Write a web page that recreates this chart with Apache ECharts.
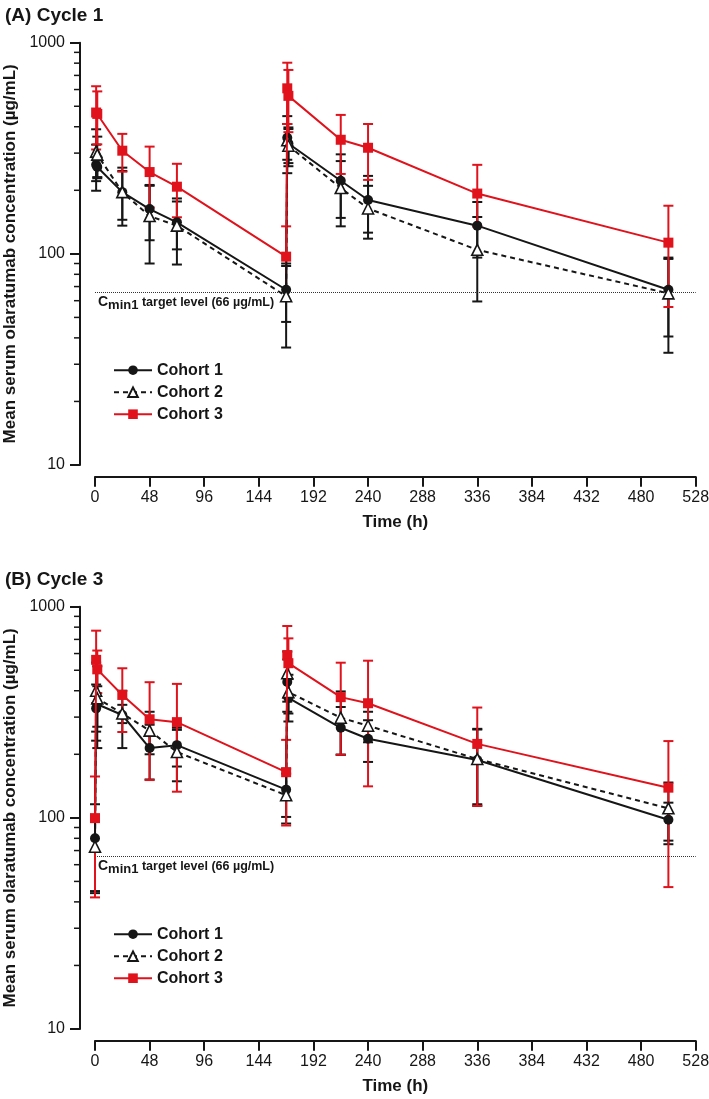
<!DOCTYPE html>
<html>
<head>
<meta charset="utf-8">
<script src="https://cdn.jsdelivr.net/npm/echarts@6/dist/echarts.min.js"></script>
<style>
  html, body { margin: 0; padding: 0; background: #fff; }
  #chart { width: 709px; height: 1099px; }
</style>
</head>
<body>
<div id="chart"></div>
<script>
// ---------------- DATA ----------------
const timesCycle1 = [1, 2, 24, 48, 72, 168, 169, 170, 216, 240, 336, 504];
const timesCycle3 = [0, 1, 2, 24, 48, 72, 168, 169, 170, 216, 240, 336, 504];

// Cycle 1 (panel A)
const c1Cohort1Mean = [264, 258, 196, 163, 141, 67.6, 355, 333, 222, 180, 136, 67.6];
const c1Cohort1Low  = [199, 228, 145, 116, 105, 47.6, 279, 269, 148, 126, 96, 40.6];
const c1Cohort1High = [329, 288, 247, 210, 177, 87.6, 412, 397, 296, 234, 176, 94.6];

const c1Cohort2Mean = [305, 295, 196, 151, 136, 63, 345, 325, 205, 164, 104.5, 65];
const c1Cohort2Low  = [221, 231, 136, 90, 89, 36, 241, 260, 135, 118, 59.5, 34];
const c1Cohort2High = [389, 359, 256, 212, 183, 90, 449, 390, 275, 210, 149.5, 96];

const c1Cohort3Mean = [467, 460, 308, 244, 208, 97, 608, 560, 347, 318, 193, 113];
const c1Cohort3Low  = [312, 330, 245, 166, 149, 60, 412, 377, 239, 224, 135, 56];
const c1Cohort3High = [622, 588, 370, 322, 267, 135, 804, 743, 455, 412, 264, 169];

// Cycle 3 (panel B)
const c3Cohort1Mean = [80, 330, 345, 307, 214, 221, 136, 440, 370, 267, 237, 188, 98];
const c3Cohort1Low  = [44, 232, 270, 214, 152, 175, 101, 318, 286, 199, 184, 114, 78];
const c3Cohort1High = [116, 428, 420, 400, 276, 267, 171, 562, 454, 335, 290, 262, 118];

const c3Cohort2Mean = [73, 400, 368, 312, 259, 205, 128, 484, 394, 298, 273, 190, 111];
const c3Cohort2Low  = [45, 256, 214, 281, 200, 149, 94, 355, 312, 199, 228, 116, 75];
const c3Cohort2High = [101, 544, 522, 343, 318, 261, 162, 613, 476, 397, 318, 264, 147];

const c3Cohort3Mean = [99.7, 560, 505, 382, 293, 284, 164.5, 590, 540, 373, 349, 224, 139];
const c3Cohort3Low  = [42, 350, 390, 255, 151, 133, 92, 370, 372, 199, 141, 114, 47];
const c3Cohort3High = [157, 770, 620, 511, 439, 431, 234, 810, 708, 543, 555, 333, 231];

const targetLevel = 66;
const cohortNames = ['Cohort 1', 'Cohort 2', 'Cohort 3'];
const panelTitles = ['(A) Cycle 1', '(B) Cycle 3'];
const xTicks = { min: 0, max: 528, interval: 48 };
const yRange = { min: 10, max: 1000 };
const minorTickValues = [20, 30, 40, 50, 60, 70, 80, 90, 200, 300, 400, 500, 600, 700, 800, 900];
const yAxisName = 'Mean serum olaratumab concentration (\u00b5g/mL)';
const xAxisName = 'Time (h)';

// ---------------- STYLE ----------------
const FONT = '"Liberation Sans", Arial, Helvetica, sans-serif';
const BLACK = '#161616';
const RED = '#e0121c';
const Y_OFFSET = 15;

const zip = (t, a) => t.map((x, i) => [x, a[i]]);
const zip3 = (t, lo, hi) => t.map((x, i) => [x, lo[i], hi[i]]);

const panels = [
  { times: timesCycle1, mean: [c1Cohort1Mean, c1Cohort2Mean, c1Cohort3Mean],
    low: [c1Cohort1Low, c1Cohort2Low, c1Cohort3Low], high: [c1Cohort1High, c1Cohort2High, c1Cohort3High], top: 42.7 },
  { times: timesCycle3, mean: [c3Cohort1Mean, c3Cohort2Mean, c3Cohort3Mean],
    low: [c3Cohort1Low, c3Cohort2Low, c3Cohort3Low], high: [c3Cohort1High, c3Cohort2High, c3Cohort3High], top: 606.7 }
];

const grids = [], xAxes = [], yAxes = [], series = [], titles = [], legends = [];

function errRender(color) {
  return function (params, api) {
    const x = api.value(0), lo = api.value(1), hi = api.value(2);
    const p1 = api.coord([x, lo]);
    const p2 = api.coord([x, hi]);
    const w = 5;
    const st = { stroke: color, lineWidth: 2 };
    return {
      type: 'group',
      children: [
        { type: 'line', shape: { x1: p1[0], y1: p1[1], x2: p2[0], y2: p2[1] }, style: st },
        { type: 'line', shape: { x1: p1[0] - w, y1: p1[1], x2: p1[0] + w, y2: p1[1] }, style: st },
        { type: 'line', shape: { x1: p2[0] - w, y1: p2[1], x2: p2[0] + w, y2: p2[1] }, style: st }
      ]
    };
  };
}

const seriesStyles = [
  { color: BLACK, symbol: 'circle', symbolSize: 10, lineType: 'solid',
    itemStyle: { color: BLACK, borderColor: BLACK, borderWidth: 0 } },
  { color: BLACK, symbol: 'triangle', symbolSize: 11, lineType: [5, 4],
    itemStyle: { color: '#ffffff', borderColor: BLACK, borderWidth: 1.6 } },
  { color: RED, symbol: 'rect', symbolSize: 10, lineType: 'solid',
    itemStyle: { color: RED, borderColor: RED, borderWidth: 0 } }
];

panels.forEach((p, gi) => {
  grids.push({ left: 95, top: p.top, width: 600.7, height: 422.3, containLabel: false, outerBoundsMode: 'none' });
  xAxes.push({
    gridIndex: gi, type: 'value', min: xTicks.min, max: xTicks.max, interval: xTicks.interval,
    offset: 11.7,
    axisLine: { show: true, onZero: false, lineStyle: { color: BLACK, width: 2 } },
    axisTick: { show: true, length: 10, lineStyle: { color: BLACK, width: 2 } },
    axisLabel: { fontFamily: FONT, fontSize: 16, color: BLACK, margin: 13 },
    splitLine: { show: false },
    name: xAxisName, nameLocation: 'middle', nameGap: 37,
    nameTextStyle: { fontFamily: FONT, fontSize: 17, fontWeight: 'bold', color: BLACK }
  });
  yAxes.push({
    gridIndex: gi, type: 'log', logBase: 10, min: yRange.min, max: yRange.max,
    offset: Y_OFFSET,
    axisLine: { show: true, onZero: false, lineStyle: { color: BLACK, width: 2 } },
    axisTick: { show: true, length: 10, lineStyle: { color: BLACK, width: 2 } },
    axisLabel: { fontFamily: FONT, fontSize: 16, color: BLACK, margin: 15,
      formatter: v => String(Math.round(v)) },
    splitLine: { show: false },
    name: yAxisName, nameLocation: 'middle', nameGap: 58, nameRotate: 90,
    nameTextStyle: { fontFamily: FONT, fontSize: 17, fontWeight: 'bold', color: BLACK }
  });
  titles.push({
    text: panelTitles[gi], left: 0, top: p.top - 41,
    textStyle: { fontFamily: FONT, fontSize: 19, fontWeight: 'bold', color: BLACK }
  });
  legends.push({
    data: cohortNames, orient: 'vertical', left: 108, top: p.top + 313,
    itemWidth: 38, itemHeight: 12, itemGap: 3,
    selectedMode: false,
    textStyle: { fontFamily: FONT, fontSize: 16, fontWeight: 'bold', color: BLACK, lineHeight: 19 }
  });

  // minor ticks for log axis
  series.push({
    type: 'custom', xAxisIndex: gi, yAxisIndex: gi, silent: true, clip: false, z: 1,
    data: minorTickValues.map(v => [0, v]),
    encode: { x: 0, y: 1 },
    renderItem: function (params, api) {
      const c = api.coord([api.value(0), api.value(1)]);
      const ax = c[0] - Y_OFFSET;
      return { type: 'line', shape: { x1: ax - 6, y1: c[1], x2: ax, y2: c[1] },
        style: { stroke: BLACK, lineWidth: 1.5 } };
    }
  });

  // error bars
  [0, 1, 2].forEach(k => {
    series.push({
      name: 'err' + gi + k, type: 'custom', xAxisIndex: gi, yAxisIndex: gi, silent: true, z: 2 + k,
      data: zip3(p.times, p.low[k], p.high[k]),
      encode: { x: 0, y: [1, 2] },
      renderItem: errRender(seriesStyles[k].color)
    });
  });

  // lines + markers
  [0, 1, 2].forEach(k => {
    const s = seriesStyles[k];
    const obj = {
      name: cohortNames[k], type: 'line', xAxisIndex: gi, yAxisIndex: gi,
      data: zip(p.times, p.mean[k]),
      symbol: s.symbol, symbolSize: s.symbolSize, showAllSymbol: true,
      lineStyle: { color: s.color, width: 2, type: s.lineType },
      itemStyle: s.itemStyle, z: 6 + k, silent: true,
      emphasis: { disabled: true }
    };
    if (k === 0) {
      obj.markLine = {
        symbol: 'none', silent: true, z: 1,
        lineStyle: { type: 'dotted', color: '#333', width: 1 },
        label: {
          show: true, position: 'insideStartBottom', distance: [3, 3],
          formatter: '{c|C}{s|min1}{t| target level (66 \u00b5g/mL)}',
          rich: {
            c: { fontFamily: FONT, fontSize: 14, fontWeight: 'bold', color: BLACK, padding: [0, 0, 3, 0], verticalAlign: 'bottom' },
            s: { fontFamily: FONT, fontSize: 13, fontWeight: 'bold', color: BLACK, verticalAlign: 'bottom' },
            t: { fontFamily: FONT, fontSize: 12.5, fontWeight: 'bold', color: BLACK, padding: [0, 0, 3, 0], verticalAlign: 'bottom' }
          }
        },
        data: [{ yAxis: targetLevel }]
      };
    }
    series.push(obj);
  });
});

const chart = echarts.init(document.getElementById('chart'), null, { renderer: 'canvas' });
chart.setOption({
  animation: false,
  backgroundColor: '#ffffff',
  title: titles,
  legend: legends,
  grid: grids,
  xAxis: xAxes,
  yAxis: yAxes,
  series: series
});
</script>
</body>
</html>
